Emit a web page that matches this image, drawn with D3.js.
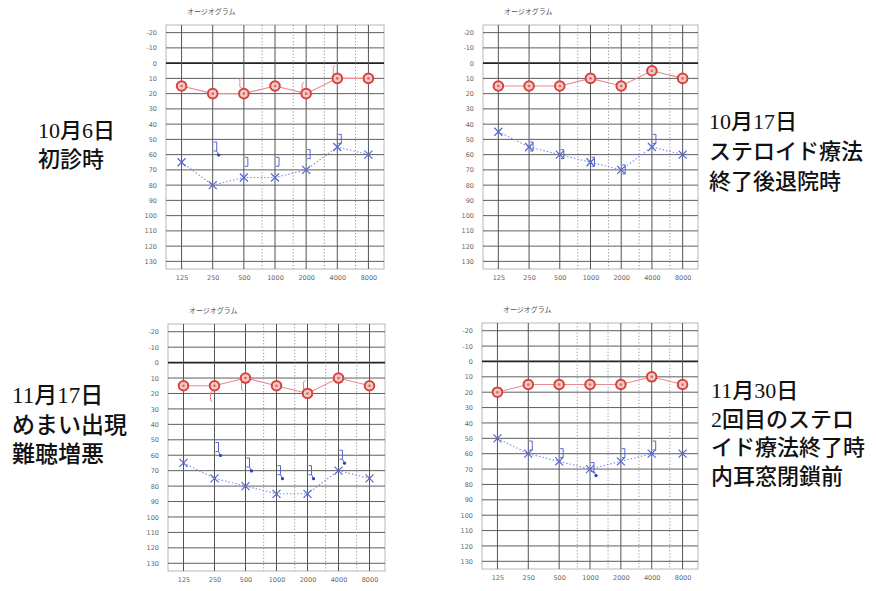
<!DOCTYPE html>
<html>
<head>
<meta charset="utf-8">
<script src="https://cdn.jsdelivr.net/npm/d3@7"></script>
<style>
  body { margin: 0; background: #fff; }
  svg { display: block; }
</style>
</head>
<body>
<svg id="chart" width="876" height="591"></svg>
<script>
// frequencies (Hz) and hearing level ticks (dB)
const freqs = [125, 250, 500, 1000, 2000, 4000, 8000];
const halfFreqs = [750, 1500, 3000, 6000];
const dbTicks = [-20, -10, 0, 10, 20, 30, 40, 50, 60, 70, 80, 90, 100, 110, 120, 130];
const chartTitle = "オージオグラム";

// right ear air conduction (red circles)
const rightAC1006 = [15, 20, 20, 15, 20, 10, 10];
const rightAC1017 = [15, 15, 15, 10, 15, 5, 10];
const rightAC1117 = [15, 15, 10, 15, 20, 10, 15];
const rightAC1130 = [20, 15, 15, 15, 15, 10, 15];

// left ear air conduction (blue crosses)
const leftAC1006 = [65, 80, 75, 75, 70, 55, 60];
const leftAC1017 = [45, 55, 60, 65, 70, 55, 60];
const leftAC1117 = [65, 75, 80, 85, 85, 70, 75];
const leftAC1130 = [50, 60, 65, 70, 65, 60, 60];

// right ear bone conduction [freq, dB]
const rightBC1006 = [[500, 13], [2000, 16], [4000, 5]];
const rightBC1017 = [];
const rightBC1117 = [[250, 22], [500, 15], [2000, 15]];
const rightBC1130 = [];

// left ear bone conduction [freq, dB, scale out]
const leftBC1006 = [[250, 55, 1], [500, 65, 0], [1000, 65, 0], [2000, 60, 0], [4000, 50, 0]];
const leftBC1017 = [[250, 55, 0], [500, 60, 0], [1000, 65, 0], [2000, 70, 0], [4000, 50, 0]];
const leftBC1117 = [[250, 55, 1], [500, 65, 1], [1000, 70, 1], [2000, 70, 1], [4000, 60, 1]];
const leftBC1130 = [[250, 55, 0], [500, 60, 0], [1000, 69, 1], [2000, 60, 0], [4000, 55, 0]];

// captions
const caption1006 = ["10月6日", "初診時"];
const caption1017 = ["10月17日", "ステロイド療法", "終了後退院時"];
const caption1117 = ["11月17日", "めまい出現", "難聴増悪"];
const caption1130 = ["11月30日", "2回目のステロ", "イド療法終了時", "内耳窓閉鎖前"];

const panels = [
  { left: 166, top: 25, right: 384, bottom: 269, rAC: rightAC1006, lAC: leftAC1006, rBC: rightBC1006, lBC: leftBC1006,
    caption: caption1006, capX: 38, capY: 138, capSize: 22, capLH: 29 },
  { left: 483, top: 25, right: 698, bottom: 269, rAC: rightAC1017, lAC: leftAC1017, rBC: rightBC1017, lBC: leftBC1017,
    caption: caption1017, capX: 709, capY: 129, capSize: 22, capLH: 30 },
  { left: 168, top: 324, right: 385, bottom: 571, rAC: rightAC1117, lAC: leftAC1117, rBC: rightBC1117, lBC: leftBC1117,
    caption: caption1117, capX: 12, capY: 403, capSize: 23, capLH: 29.5 },
  { left: 482, top: 323, right: 698, bottom: 569, rAC: rightAC1130, lAC: leftAC1130, rBC: rightBC1130, lBC: leftBC1130,
    caption: caption1130, capX: 711, capY: 398, capSize: 22, capLH: 28.5 }
];

const svg = d3.select("#chart");
const red = "#d8413c", pink = "#e88a90", blue = "#5565d6", blueLine = "#7f8ce2";

panels.forEach(p => {
  const x = d3.scaleLog().base(2)
    .domain([125 / Math.SQRT2, 8000 * Math.SQRT2])
    .range([p.left, p.right]);
  const y = d3.scaleLinear().domain([-25, 135]).range([p.top, p.bottom]);

  const g = svg.append("g");

  // title
  g.append("text")
    .attr("x", p.left + 21).attr("y", p.top - 11)
    .attr("font-family", "Noto Sans CJK JP").attr("font-size", 7)
    .attr("fill", "#555").text(chartTitle);

  // frame
  g.append("rect")
    .attr("x", p.left).attr("y", p.top)
    .attr("width", p.right - p.left).attr("height", p.bottom - p.top)
    .attr("fill", "none").attr("stroke", "#b8b8b8").attr("stroke-width", 1);

  // horizontal grid
  g.selectAll(".hg").data(dbTicks).enter().append("line")
    .attr("x1", p.left).attr("x2", p.right)
    .attr("y1", d => y(d)).attr("y2", d => y(d))
    .attr("stroke", d => d === 0 ? "#222" : "#5e5e5e")
    .attr("stroke-width", d => d === 0 ? 1.8 : 1);

  // vertical grid: octaves solid, half octaves dotted
  g.selectAll(".vg").data(freqs).enter().append("line")
    .attr("x1", d => x(d)).attr("x2", d => x(d))
    .attr("y1", p.top).attr("y2", p.bottom)
    .attr("stroke", "#555").attr("stroke-width", 1);
  g.selectAll(".vh").data(halfFreqs).enter().append("line")
    .attr("x1", d => x(d)).attr("x2", d => x(d))
    .attr("y1", p.top).attr("y2", p.bottom)
    .attr("stroke", "#8a8a9a").attr("stroke-width", 0.9)
    .attr("stroke-dasharray", "1.2,2");

  // axes labels
  const yAxis = d3.axisLeft(y).tickValues(dbTicks).tickSize(0).tickPadding(9)
    .tickFormat(d => String(d));
  const ya = g.append("g").attr("transform", `translate(${p.left},0)`).call(yAxis);
  const xAxis = d3.axisBottom(x).tickValues(freqs).tickSize(0).tickPadding(6)
    .tickFormat(d => String(d));
  const xa = g.append("g").attr("transform", `translate(0,${p.bottom})`).call(xAxis);
  [ya, xa].forEach(a => {
    a.select(".domain").remove();
    a.selectAll("text").attr("font-family", "DejaVu Sans").attr("font-size", 6.5).attr("fill", "#666");
  });

  // right air conduction line + circles
  const rPts = freqs.map((f, i) => [f, p.rAC[i]]);
  g.append("path").datum(rPts)
    .attr("fill", "none").attr("stroke", pink).attr("stroke-width", 1.1)
    .attr("d", d3.line().x(d => x(d[0])).y(d => y(d[1])));

  // left air conduction dotted line
  const lPts = freqs.map((f, i) => [f, p.lAC[i]]);
  g.append("path").datum(lPts)
    .attr("fill", "none").attr("stroke", blueLine).attr("stroke-width", 1.1)
    .attr("stroke-dasharray", "1.5,2")
    .attr("d", d3.line().x(d => x(d[0])).y(d => y(d[1])));

  // right bone conduction "["
  g.selectAll(".rbc").data(p.rBC).enter().append("path")
    .attr("fill", "none").attr("stroke", pink).attr("stroke-width", 1)
    .attr("d", d => {
      const cx = x(d[0]) - 4, cy = y(d[1]);
      return `M${cx + 2},${cy - 5} L${cx},${cy - 4} L${cx},${cy + 4} L${cx + 2},${cy + 5}`;
    });

  // left bone conduction "]" with scale-out arrow
  const lbc = g.selectAll(".lbc").data(p.lBC).enter().append("g");
  lbc.append("path")
    .attr("fill", "none").attr("stroke", blue).attr("stroke-width", 1)
    .attr("d", d => {
      const cx = x(d[0]) + 1, cy = y(d[1]);
      return `M${cx},${cy - 5} L${cx + 3},${cy - 5} L${cx + 3},${cy + 4} L${cx},${cy + 4}`;
    });
  lbc.filter(d => d[2]).append("line")
    .attr("x1", d => x(d[0]) + 4).attr("y1", d => y(d[1]) + 4)
    .attr("x2", d => x(d[0]) + 6).attr("y2", d => y(d[1]) + 8)
    .attr("stroke", blue).attr("stroke-width", 1);
  lbc.filter(d => d[2]).append("circle")
    .attr("cx", d => x(d[0]) + 6).attr("cy", d => y(d[1]) + 8)
    .attr("r", 1.6).attr("fill", "#2a3cc8");

  // blue crosses
  g.selectAll(".lx").data(lPts).enter().append("path")
    .attr("fill", "none").attr("stroke", blue).attr("stroke-width", 1.2)
    .attr("d", d => {
      const cx = x(d[0]), cy = y(d[1]), s = 4;
      return `M${cx - s},${cy - s} L${cx + s},${cy + s} M${cx - s},${cy + s} L${cx + s},${cy - s}`;
    });

  // red circles
  g.selectAll(".rc").data(rPts).enter().append("circle")
    .attr("cx", d => x(d[0])).attr("cy", d => y(d[1]))
    .attr("r", 4.8).attr("fill", "#f3c9c4")
    .attr("stroke", red).attr("stroke-width", 2);
  g.selectAll(".rcc").data(rPts).enter().append("circle")
    .attr("cx", d => x(d[0])).attr("cy", d => y(d[1]))
    .attr("r", 1.3).attr("fill", "#c07070");

  // caption
  const cap = svg.append("text")
    .attr("font-family", "'Liberation Serif', 'Noto Sans CJK JP'")
    .attr("font-weight", 500)
    .attr("font-size", p.capSize).attr("fill", "#111");
  cap.selectAll("tspan").data(p.caption).enter().append("tspan")
    .attr("x", p.capX).attr("y", (d, i) => p.capY + i * p.capLH)
    .text(d => d);
});
</script>
</body>
</html>
